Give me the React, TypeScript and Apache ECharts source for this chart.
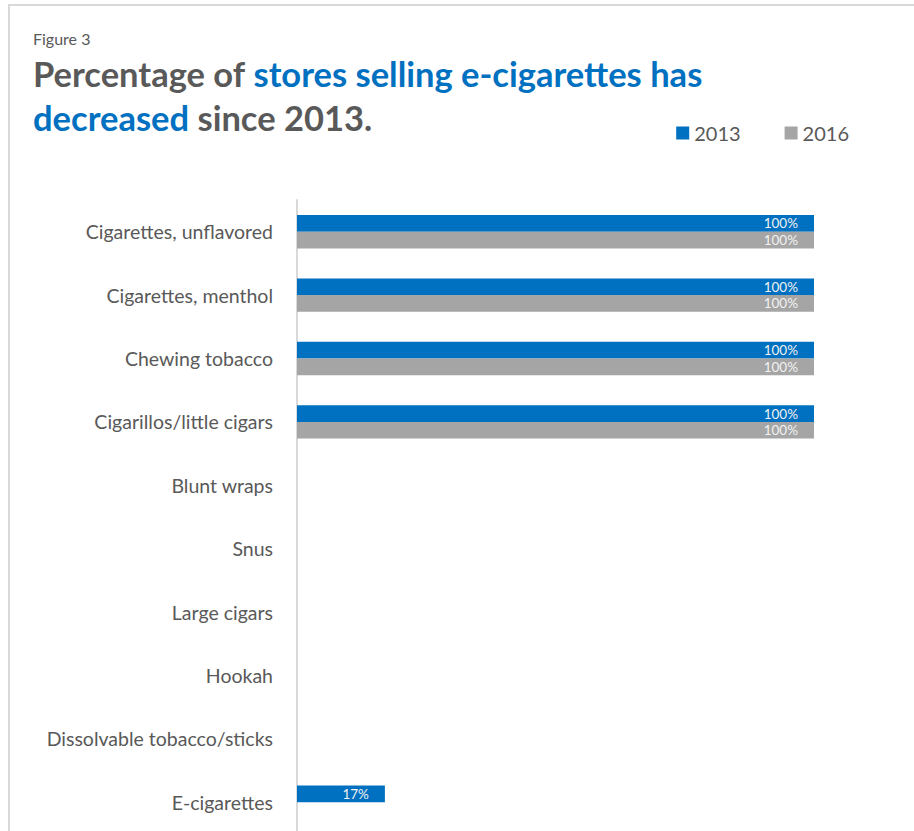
import React, { useEffect, useRef } from "react";
import * as echarts from "echarts";

const categories = [
  "Cigarettes, unflavored",
  "Cigarettes, menthol",
  "Chewing tobacco",
  "Cigarillos/little cigars",
  "Blunt wraps",
  "Snus",
  "Large cigars",
  "Hookah",
  "Dissolvable tobacco/sticks",
  "E-cigarettes",
];
const values2013: (number | null)[] = [100, 100, 100, 100, null, null, null, null, null, 17];
const values2016: (number | null)[] = [100, 100, 100, 100, null, null, null, null, null, null];
const seriesNames = ["2013", "2016"];

const BLUE = "#0070C0";
const GRAY = "#A5A5A5";
const TEXT = "#595959";
const FONT = "Lato";

export default function App() {
  const ref = useRef<HTMLDivElement>(null);
  useEffect(() => {
    if (!ref.current) return;
    const chart = echarts.init(ref.current, undefined, { renderer: "svg" });
    const label = {
      show: true,
      position: "insideRight",
      distance: 16,
      color: "#F2F2F2",
      fontSize: 13.5,
      fontFamily: FONT,
      formatter: (p: any) => `${p.value}%`,
    };
    chart.setOption({
      animation: false,
      backgroundColor: "#ffffff",
      graphic: [
        {
          type: "rect",
          shape: { x: 9, y: 5, width: 2000, height: 2000 },
          style: { fill: "none", stroke: "#D9D9D9", lineWidth: 2 },
          silent: true,
        },
        {
          type: "text",
          left: 33,
          top: 30,
          style: { text: "Figure 3", fontSize: 16, fontFamily: FONT, fill: TEXT },
        },
      ],
      title: {
        left: 28,
        top: 46,
        text: "{g|Percentage of }{b|stores selling e-cigarettes has}\n{b|decreased}{g| since 2013.}",
        textStyle: {
          rich: {
            g: { color: TEXT, fontSize: 34.5, fontWeight: "bold", fontFamily: FONT, lineHeight: 44 },
            b: { color: BLUE, fontSize: 34.5, fontWeight: "bold", fontFamily: FONT, lineHeight: 44 },
          },
        },
      },
      legend: {
        right: 60,
        top: 118,
        itemWidth: 13,
        itemHeight: 13,
        itemGap: 44,
        icon: "rect",
        textStyle: { fontSize: 20, color: TEXT, fontFamily: FONT },
        data: seriesNames,
      },
      grid: { left: 297, right: 100, top: 200, bottom: 0, containLabel: false },
      xAxis: {
        type: "value",
        min: 0,
        max: 100,
        show: false,
      },
      yAxis: {
        type: "category",
        inverse: true,
        data: categories,
        axisLine: { show: true, lineStyle: { color: "#D9D9D9", width: 2 } },
        axisTick: { show: false },
        axisLabel: { fontSize: 19.5, color: TEXT, fontFamily: FONT, margin: 24 },
      },
      series: [
        {
          name: seriesNames[0],
          type: "bar",
          data: values2013,
          itemStyle: { color: BLUE },
          barWidth: 16.7,
          barGap: "0%",
          label,
        },
        {
          name: seriesNames[1],
          type: "bar",
          data: values2016,
          itemStyle: { color: GRAY },
          barWidth: 16.7,
          barGap: "0%",
          label,
        },
      ],
    });
    return () => chart.dispose();
  }, []);
  return (
    <div
      style={{
        position: "fixed",
        left: 0,
        top: 0,
        width: 914,
        height: 831,
        overflow: "hidden",
      }}
    >
      <div ref={ref} style={{ width: 914, height: 834 }} />
    </div>
  );
}
